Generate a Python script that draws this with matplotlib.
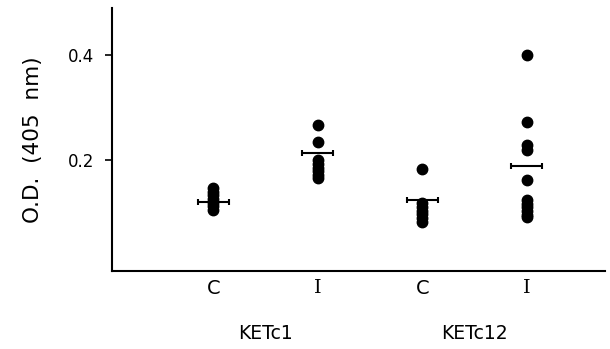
import matplotlib
matplotlib.use('Agg')
import matplotlib.pyplot as plt

# categories and groups
cats = ['C', 'I', 'C', 'I']
groups = ['KETc1', 'KETc12']

# O.D. readings per column
ketc1_c = [0.147, 0.140, 0.133, 0.126, 0.119, 0.112, 0.105]
ketc1_i = [0.267, 0.234, 0.200, 0.193, 0.186, 0.179, 0.172, 0.166]
ketc12_c = [0.183, 0.118, 0.111, 0.104, 0.097, 0.090, 0.083]
ketc12_i = [0.400, 0.272, 0.229, 0.220, 0.162, 0.124, 0.117, 0.110, 0.103, 0.096, 0.091]
means = [0.120, 0.213, 0.124, 0.189]

cols = [ketc1_c, ketc1_i, ketc12_c, ketc12_i]

fig = plt.figure(figsize=(6.1, 3.49), dpi=100)
ax = fig.add_axes([0.184, 0.2235, 0.808, 0.754])

for i, vals in enumerate(cols):
    ax.plot([i] * len(vals), vals, 'o', color='black', markersize=7.5)

ax.errorbar(range(4), means, xerr=0.15, fmt='none', ecolor='black',
            elinewidth=1.5, capsize=2.5, capthick=1.5)

ax.set_xlim(-0.967, 3.75)
ax.set_ylim(-0.011, 0.49)

ax.spines['top'].set_visible(False)
ax.spines['right'].set_visible(False)
ax.spines['left'].set_linewidth(1.5)
ax.spines['bottom'].set_linewidth(1.5)

ax.set_yticks([0.2, 0.4])
ax.set_yticklabels(['0.2', '0.4'], fontsize=12)
ax.tick_params(axis='y', direction='out', length=5, width=1.2, pad=8)

ax.set_xticks(range(4))
ax.set_xticklabels(cats, fontsize=14)
ax.tick_params(axis='x', length=0, pad=6)
for lab in ax.get_xticklabels():
    if lab.get_text() == 'I':
        lab.set_family('DejaVu Serif')

ax.set_ylabel('O.D.  (405  nm)', fontsize=15.5, labelpad=18)

for k, g in enumerate(groups):
    ax.text(0.5 + 2 * k, -0.13, g, ha='center', va='center', fontsize=13.5,
            transform=ax.transData)

fig.savefig('out.png', dpi=100)
